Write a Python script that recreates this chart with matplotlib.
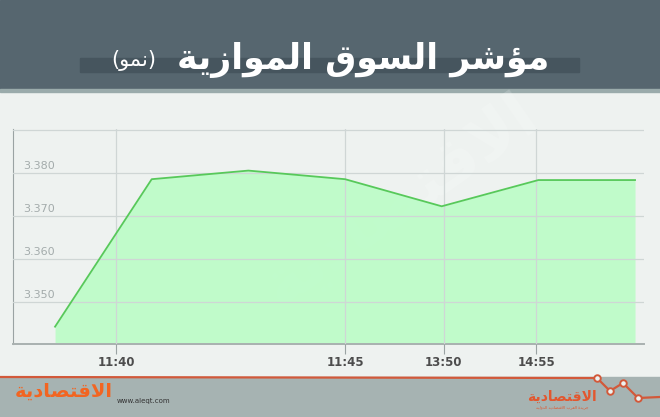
import numpy as np
import matplotlib.pyplot as plt
from matplotlib.patches import Rectangle
from matplotlib.transforms import blended_transform_factory

plt.rcParams['font.family'] = ['DejaVu Sans']

# data
points = [0, 1, 2, 3, 4, 5, 6]
values = [3.3443, 3.3786, 3.3806, 3.3786, 3.3723, 3.3784, 3.3784]
tick_pos = [0.63, 3.0, 4.02, 4.98]
tick_labels = ['11:40', '11:45', '13:50', '14:55']
y_grid = [3.35, 3.36, 3.37, 3.38, 3.39]
y_labels = ['3.350', '3.360', '3.370', '3.380']

title = 'مؤشر السوق الموازية'
subtitle = '(نمو)'
logo = 'الاقتصادية'
logo_sub = 'جريدة العرب الاقتصادية الدولية'

# small arabic shaper: isolated, final, initial, medial
FORMS = {
    'ا': ('\uFE8D', '\uFE8E', None, None),
    'أ': ('\uFE83', '\uFE84', None, None),
    'ؤ': ('\uFE85', '\uFE86', None, None),
    'ب': ('\uFE8F', '\uFE90', '\uFE91', '\uFE92'),
    'ة': ('\uFE93', '\uFE94', None, None),
    'ت': ('\uFE95', '\uFE96', '\uFE97', '\uFE98'),
    'ج': ('\uFE9D', '\uFE9E', '\uFE9F', '\uFEA0'),
    'د': ('\uFEA9', '\uFEAA', None, None),
    'ر': ('\uFEAD', '\uFEAE', None, None),
    'ز': ('\uFEAF', '\uFEB0', None, None),
    'س': ('\uFEB1', '\uFEB2', '\uFEB3', '\uFEB4'),
    'ش': ('\uFEB5', '\uFEB6', '\uFEB7', '\uFEB8'),
    'ص': ('\uFEB9', '\uFEBA', '\uFEBB', '\uFEBC'),
    'ع': ('\uFEC9', '\uFECA', '\uFECB', '\uFECC'),
    'ق': ('\uFED5', '\uFED6', '\uFED7', '\uFED8'),
    'ل': ('\uFEDD', '\uFEDE', '\uFEDF', '\uFEE0'),
    'م': ('\uFEE1', '\uFEE2', '\uFEE3', '\uFEE4'),
    'ن': ('\uFEE5', '\uFEE6', '\uFEE7', '\uFEE8'),
    'و': ('\uFEED', '\uFEEE', None, None),
    'ي': ('\uFEF1', '\uFEF2', '\uFEF3', '\uFEF4'),
}


def shape(text):
    chars = list(text)
    n = len(chars)
    res = []
    i = 0
    while i < n:
        c = chars[i]
        if c not in FORMS:
            res.append(c)
            i += 1
            continue
        prev = chars[i-1] if i > 0 else None
        joins_prev = prev in FORMS and FORMS[prev][2] is not None
        if c == 'ل' and i+1 < n and chars[i+1] == 'ا':
            res.append('\uFEFC' if joins_prev else '\uFEFB')
            i += 2
            continue
        nxt = chars[i+1] if i+1 < n else None
        joins_next = FORMS[c][2] is not None and nxt in FORMS
        iso, fin, ini, med = FORMS[c]
        if joins_prev and joins_next:
            g = med
        elif joins_prev:
            g = fin
        elif joins_next:
            g = ini
        else:
            g = iso
        res.append(g)
        i += 1
    vis = ''.join(reversed(res))
    return vis.translate(str.maketrans('()', ')('))


fig = plt.figure(figsize=(6.6, 4.17), dpi=100)
fig.patch.set_facecolor('#eef2f0')

# background layer in pixel coords
bg = fig.add_axes([0, 0, 1, 1], zorder=0)
bg.set_xlim(0, 660)
bg.set_ylim(417, 0)
bg.axis('off')
bg.add_patch(Rectangle((0, 0), 660, 89, color='#56666f'))
bg.add_patch(Rectangle((0, 89), 660, 3, color='#9aabab'))
bg.add_patch(Rectangle((80, 58), 499, 14, color='#46555e'))
bg.text(549, 60, shape(title), color='white', fontsize=25, fontweight='bold',
        ha='right', va='center')
bg.text(111, 60, shape(subtitle), color='white', fontsize=15,
        ha='left', va='center')

# faint watermark
bg.text(400, 200, shape(logo), color='white', alpha=0.18, fontsize=46,
        fontweight='bold', rotation=35, ha='center', va='center')

# footer
bg.add_patch(Rectangle((0, 377), 660, 40, color='#a6b3b2'))
bg.plot([0, 597, 610, 623, 638, 660], [377, 378, 391, 383, 398, 397],
        color='#d2593a', lw=1.6, zorder=3)
bg.scatter([597, 610, 623, 638], [378, 391, 383, 398], s=22,
           facecolor='#eef2f0', edgecolor='#d2593a', lw=1.4, zorder=4)
bg.text(117, 401, 'www.aleqt.com', color='#333333', fontsize=5,
        ha='left', va='center')
bg.text(64, 391, shape(logo), color='#f26522', fontsize=14,
        fontweight='bold', ha='center', va='center')
bg.text(562, 397, shape(logo), color='#e2572f', fontsize=10,
        fontweight='bold', ha='center', va='center')
bg.text(562, 407, shape(logo_sub), color='#e2572f', fontsize=3,
        ha='center', va='center')

# main chart
ax = fig.add_axes([0.0191, 0.1743, 0.9567, 0.5156], zorder=1)
ax.set_facecolor('none')
ax.set_xlim(-0.439, 6.093)
ax.set_ylim(3.3402, 3.3902)

ax.fill_between(points, values, 3.3402, color='#bdfcc8', alpha=0.93, lw=0,
                zorder=1)
ax.plot(points, values, color='#57c95a', lw=1.3, zorder=3)

ax.set_yticks(y_grid)
ax.set_yticklabels([])
ax.tick_params(axis='y', length=0)
ax.set_xticks(tick_pos)
ax.set_xticklabels(tick_labels, fontsize=8.5, color='#4d4d4d',
                   fontweight='bold')
ax.tick_params(axis='x', length=7, width=0.8, color='#9aa3a3', pad=1.5)
ax.grid(True, color='#cfd6d5', lw=0.9, zorder=2)
ax.set_axisbelow(False)

for s in ['top', 'right']:
    ax.spines[s].set_visible(False)
ax.spines['left'].set_color('#9aa3a3')
ax.spines['bottom'].set_color('#a9b1b0')
ax.spines['bottom'].set_linewidth(1.4)

tr = blended_transform_factory(ax.transAxes, ax.transData)
for v, lab in zip(y_grid, y_labels):
    ax.text(0.0165, v + 0.0006, lab, transform=tr, fontsize=8,
            color='#a3abab', ha='left', va='bottom')

plt.savefig('out.png', dpi=100)
